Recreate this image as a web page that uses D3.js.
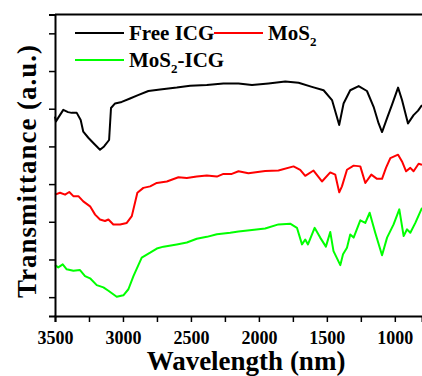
<!DOCTYPE html>
<html>
<head>
<meta charset="utf-8">
<script src="https://cdn.jsdelivr.net/npm/d3@7"></script>
<style>
  html, body { margin: 0; padding: 0; background: #fff; }
  svg { display: block; }
</style>
</head>
<body>
<div id="chart"></div>
<script>
// Wavenumber positions (x) and transmittance (a.u.) per spectrum
const freeIcgX = [3500, 3493, 3478, 3439, 3404, 3377, 3340, 3311, 3292, 3255, 3218, 3169, 3139, 3102, 3088, 3058, 3009, 2948, 2889, 2813, 2727, 2604, 2506, 2383, 2261, 2150, 2051, 1929, 1806, 1708, 1610, 1524, 1462, 1409, 1377, 1328, 1266, 1205, 1156, 1119, 1094, 1057, 1021, 976, 947, 903, 862, 829, 800];
const freeIcgY = [5.79, 5.66, 5.75, 5.97, 5.91, 5.89, 5.89, 5.70, 5.39, 5.23, 5.09, 4.91, 5.00, 5.17, 6.02, 6.14, 6.18, 6.27, 6.36, 6.47, 6.51, 6.56, 6.61, 6.63, 6.67, 6.67, 6.63, 6.67, 6.72, 6.69, 6.58, 6.49, 6.23, 5.57, 6.14, 6.49, 6.60, 6.47, 6.05, 5.61, 5.38, 5.75, 6.10, 6.56, 6.23, 5.61, 5.83, 5.95, 6.10];

const mos2X = [3500, 3463, 3426, 3395, 3365, 3328, 3292, 3242, 3205, 3169, 3132, 3107, 3071, 3021, 2972, 2935, 2894, 2850, 2800, 2751, 2677, 2592, 2530, 2457, 2383, 2309, 2261, 2199, 2150, 2077, 1954, 1856, 1745, 1696, 1659, 1598, 1536, 1475, 1438, 1409, 1389, 1352, 1303, 1254, 1217, 1173, 1131, 1094, 1065, 1033, 976, 947, 917, 886, 862, 825, 800];
const mos2Y = [3.72, 3.77, 3.72, 3.79, 3.68, 3.68, 3.54, 3.41, 3.19, 3.06, 3.02, 3.06, 2.93, 2.93, 2.97, 3.15, 3.77, 3.90, 3.94, 4.03, 4.07, 4.18, 4.16, 4.20, 4.23, 4.20, 4.27, 4.27, 4.34, 4.29, 4.35, 4.36, 4.47, 4.38, 4.22, 4.36, 4.07, 4.31, 4.25, 3.78, 3.94, 4.38, 4.49, 4.47, 4.03, 4.25, 4.14, 4.14, 4.43, 4.69, 4.78, 4.60, 4.34, 4.43, 4.34, 4.54, 4.51];

const mos2IcgX = [3500, 3476, 3443, 3414, 3365, 3316, 3279, 3242, 3193, 3144, 3107, 3046, 2997, 2960, 2923, 2862, 2800, 2751, 2702, 2604, 2530, 2457, 2383, 2309, 2211, 2150, 2051, 1954, 1856, 1770, 1720, 1683, 1659, 1639, 1590, 1549, 1507, 1475, 1451, 1401, 1381, 1352, 1328, 1303, 1254, 1217, 1185, 1144, 1094, 1057, 1009, 967, 935, 910, 886, 849, 800];
const mos2IcgY = [1.85, 1.79, 1.87, 1.74, 1.70, 1.72, 1.56, 1.50, 1.32, 1.26, 1.17, 1.01, 1.05, 1.21, 1.56, 2.05, 2.18, 2.29, 2.34, 2.40, 2.45, 2.55, 2.60, 2.67, 2.71, 2.74, 2.78, 2.82, 2.93, 2.95, 2.84, 2.40, 2.53, 2.40, 2.84, 2.58, 2.34, 2.73, 2.22, 1.85, 2.14, 2.31, 2.66, 2.58, 3.04, 2.97, 3.24, 2.71, 2.11, 2.58, 2.93, 3.33, 2.62, 2.80, 2.71, 2.97, 3.37];

const xTickValues = [3500, 3250, 3000, 2750, 2500, 2250, 2000, 1750, 1500, 1250, 1000];
const yTickValues = [1, 2, 3, 4, 5, 6, 7, 8];

const width = 422, height = 376;
const margin = { top: 14.5, right: 0, bottom: 60, left: 55 };
const serif = "'Liberation Serif', 'Times New Roman', serif";

const svg = d3.select('#chart')
  .append('svg')
  .attr('width', width)
  .attr('height', height);

const x = d3.scaleLinear()
  .domain([3500, 800])
  .range([margin.left, width - margin.right]);

const y = d3.scaleLinear()
  .domain([0.5, 8.5])
  .range([height - margin.bottom, margin.top]);

const line = d3.line()
  .x(d => x(d[0]))
  .y(d => y(d[1]));

const series = [
  { xs: freeIcgX, ys: freeIcgY, color: '#000000' },
  { xs: mos2X, ys: mos2Y, color: '#ff0000' },
  { xs: mos2IcgX, ys: mos2IcgY, color: '#00ff00' }
];

series.forEach(s => {
  svg.append('path')
    .datum(d3.zip(s.xs, s.ys))
    .attr('fill', 'none')
    .attr('stroke', s.color)
    .attr('stroke-width', 2)
    .attr('stroke-linejoin', 'round')
    .attr('d', line);
});

// Bottom axis
const xAxis = svg.append('g')
  .attr('transform', `translate(0,${height - margin.bottom})`)
  .call(d3.axisBottom(x)
    .tickValues(xTickValues)
    .tickSize(6)
    .tickFormat(d => d % 500 === 0 ? d : ''));

xAxis.select('.domain').attr('stroke-width', 2);
xAxis.selectAll('.tick line').attr('stroke-width', 1.5);
xAxis.selectAll('text')
  .attr('font-family', serif)
  .attr('font-weight', 'bold')
  .attr('font-size', '18px')
  .attr('fill', '#000')
  .attr('dy', '1.05em');

// Left axis
const yAxis = svg.append('g')
  .attr('transform', `translate(${margin.left},0)`)
  .call(d3.axisLeft(y)
    .tickValues(yTickValues)
    .tickSize(6)
    .tickFormat(''));

yAxis.select('.domain').attr('stroke-width', 2);
yAxis.selectAll('.tick line').attr('stroke-width', 1.5);

// Top frame
svg.append('line')
  .attr('x1', margin.left).attr('x2', width)
  .attr('y1', margin.top).attr('y2', margin.top)
  .attr('stroke', '#000')
  .attr('stroke-width', 2);

// Axis titles
svg.append('text')
  .attr('x', 246)
  .attr('y', 370)
  .attr('text-anchor', 'middle')
  .attr('font-family', serif)
  .attr('font-weight', 'bold')
  .attr('font-size', '27px')
  .text('Wavelength (nm)');

svg.append('text')
  .attr('transform', 'translate(36,171) rotate(-90)')
  .attr('text-anchor', 'middle')
  .attr('font-family', serif)
  .attr('font-weight', 'bold')
  .attr('font-size', '27px')
  .attr('letter-spacing', '1px')
  .text('Transmittance (a.u.)');

// Legend
const legend = [
  { label: 'Free ICG', sub: null, rest: '', color: '#000000', lx: 75, ly: 33 },
  { label: 'MoS', sub: '2', rest: '', color: '#ff0000', lx: 214, ly: 33 },
  { label: 'MoS', sub: '2', rest: '-ICG', color: '#00ff00', lx: 75, ly: 60 }
];

legend.forEach(l => {
  svg.append('line')
    .attr('x1', l.lx).attr('x2', l.lx + 49)
    .attr('y1', l.ly).attr('y2', l.ly)
    .attr('stroke', l.color)
    .attr('stroke-width', 2);

  const t = svg.append('text')
    .attr('x', l.lx + 54)
    .attr('y', l.ly + 6.5)
    .attr('font-family', serif)
    .attr('font-weight', 'bold')
    .attr('font-size', '21px')
    .text(l.label);

  if (l.sub) {
    t.append('tspan')
      .attr('font-size', '13px')
      .attr('dy', 6)
      .text(l.sub);
    if (l.rest) {
      t.append('tspan')
        .attr('dy', -6)
        .text(l.rest);
    }
  }
});
</script>
</body>
</html>
